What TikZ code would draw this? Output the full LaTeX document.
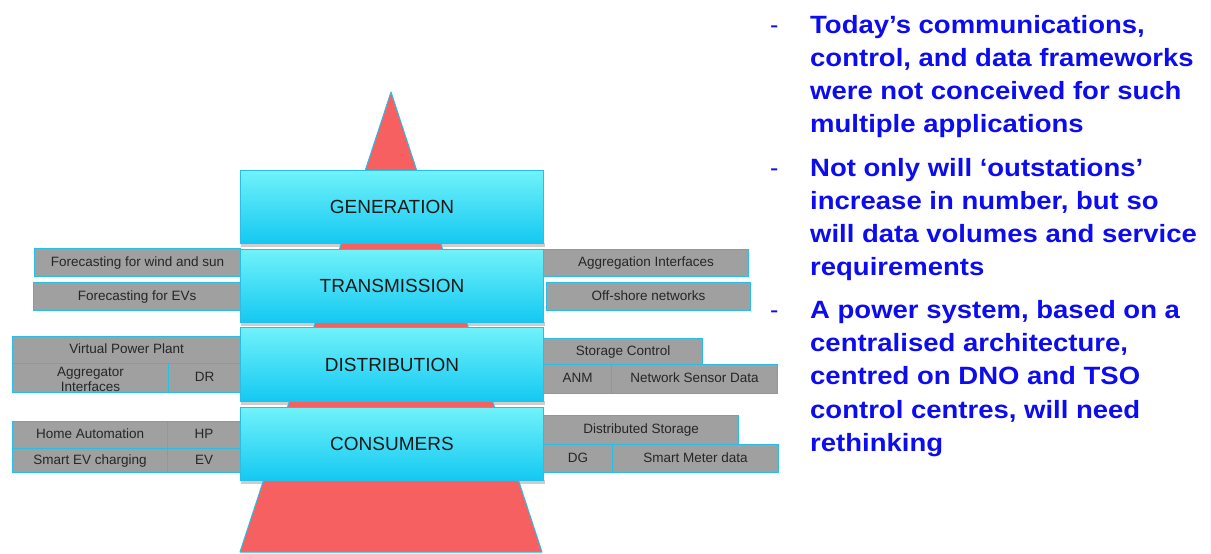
\documentclass[tikz,border=0pt]{standalone}
\usepackage{fontspec}
\setmainfont{Liberation Sans}
\newfontfamily\bluefont[FakeStretch=1.1]{Liberation Sans}
\definecolor{tri}{RGB}{246,96,96}
\definecolor{cyb}{RGB}{40,190,230}
\definecolor{cytop}{RGB}{112,242,250}
\definecolor{cybot}{RGB}{20,200,242}
\definecolor{gf}{RGB}{160,160,160}
\definecolor{bl}{RGB}{12,12,238}
\definecolor{shd}{RGB}{205,205,205}
\tikzset{
  layer/.style={draw=cyb, line width=1pt, top color=cytop, bottom color=cybot,
    minimum width=303pt, anchor=north west, inner sep=0pt,
    font=\fontsize{19}{19}\selectfont, text=black!90},
  gbox/.style={draw=cyb, line width=1.2pt, fill=gf, anchor=north west, inner sep=0pt,
    font=\fontsize{13.5}{14}\selectfont, text=black!85, text height=9.7pt, text depth=2.6pt},
  gtext/.style={inner sep=0pt, align=center, text=black!85,
    font=\fontsize{13.5}{14.5}\selectfont},
  shadowband/.style={fill=shd, draw=none},
  bline/.style={anchor=base west, inner sep=0pt, text=bl,
    font=\bluefont\bfseries\fontsize{25}{30}\selectfont},
  bdash/.style={anchor=base west, inner sep=0pt, text=bl,
    font=\fontsize{25}{30}\selectfont}
}
\begin{document}
\begin{tikzpicture}[x=1pt,y=-1pt]
\useasboundingbox (0,0) rectangle (1211,554);
% drop shadows
\fill[shadowband] (241,243) rectangle (545,247);
\fill[shadowband] (241,322) rectangle (545,326);
\fill[shadowband] (241,401) rectangle (545,405);
\fill[shadowband] (241,480) rectangle (545,484);
% triangle
\coordinate (tA) at (391,92);
\coordinate (tL) at (240,552);
\coordinate (tR) at (542,552);
\draw[fill=tri, draw=cyb, line width=1pt, line join=round] (tA) -- (tL) -- (tR) -- cycle;
% layers
\node[layer, minimum height=73pt] (gen) at (240,170) {GENERATION};
\node[layer, minimum height=73pt] (tra) at (240,249) {TRANSMISSION};
\node[layer, minimum height=74pt] (dis) at (240,327) {DISTRIBUTION};
\node[layer, minimum height=73pt] (con) at (240,407) {CONSUMERS};
% grey boxes left
\node[gbox, minimum width=206pt, minimum height=28pt] (fw) at (34,248) {Forecasting for wind and sun};
\node[gbox, minimum width=207pt, minimum height=28pt] (fe) at (33,282) {Forecasting for EVs};
\node[gbox, minimum width=228pt, minimum height=27pt] (vpp) at (12,336) {Virtual Power Plant};
\node[gbox, minimum width=156pt, minimum height=29pt] (agi) at (12,363) {};
\node[gtext] (agit) at ([yshift=-1.5pt]agi.center) {Aggregator\\Interfaces};
\node[gbox, minimum width=72pt, minimum height=29pt] (dr) at (168,363) {DR};
\node[gbox, minimum width=155pt, minimum height=27pt] (ha) at (12,421) {Home Automation};
\node[gbox, minimum width=73pt, minimum height=27pt] (hp) at (167,421) {HP};
\node[gbox, minimum width=155pt, minimum height=24pt] (sev) at (12,448) {Smart EV charging};
\node[gbox, minimum width=73pt, minimum height=24pt] (ev) at (167,448) {EV};
% grey boxes right
\node[gbox, minimum width=205pt, minimum height=27pt] (ai) at (543,249) {Aggregation Interfaces};
\node[gbox, minimum width=204pt, minimum height=28pt] (os) at (546,282) {Off-shore networks};
\node[gbox, minimum width=159pt, minimum height=26pt] (sc) at (543,338) {Storage Control};
\node[gbox, minimum width=68pt, minimum height=29pt] (anm) at (543,364) {ANM};
\node[gbox, minimum width=166pt, minimum height=29pt] (nsd) at (611,364) {Network Sensor Data};
\node[gbox, minimum width=195pt, minimum height=29pt] (ds) at (543,415) {Distributed Storage};
\node[gbox, minimum width=69pt, minimum height=28pt] (dg) at (543,444) {DG};
\node[gbox, minimum width=166pt, minimum height=28pt] (smd) at (612,444) {Smart Meter data};
% bullet text
\node[bdash] (d1) at (770,33) {-};
\node[bline] (p1a) at (810,33) {Today’s communications,};
\node[bline] (p1b) at (810,66) {control, and data frameworks};
\node[bline] (p1c) at (810,99) {were not conceived for such};
\node[bline] (p1d) at (810,132) {multiple applications};
\node[bdash] (d2) at (770,176) {-};
\node[bline] (p2a) at (810,176) {Not only will ‘outstations’};
\node[bline] (p2b) at (810,209) {increase in number, but so};
\node[bline] (p2c) at (810,242) {will data volumes and service};
\node[bline] (p2d) at (810,275) {requirements};
\node[bdash] (d3) at (770,318) {-};
\node[bline] (p3a) at (810,318) {A power system, based on a};
\node[bline] (p3b) at (810,351) {centralised architecture,};
\node[bline] (p3c) at (810,384) {centred on DNO and TSO};
\node[bline] (p3d) at (810,418) {control centres, will need};
\node[bline] (p3e) at (810,451) {rethinking};
\end{tikzpicture}
\end{document}
